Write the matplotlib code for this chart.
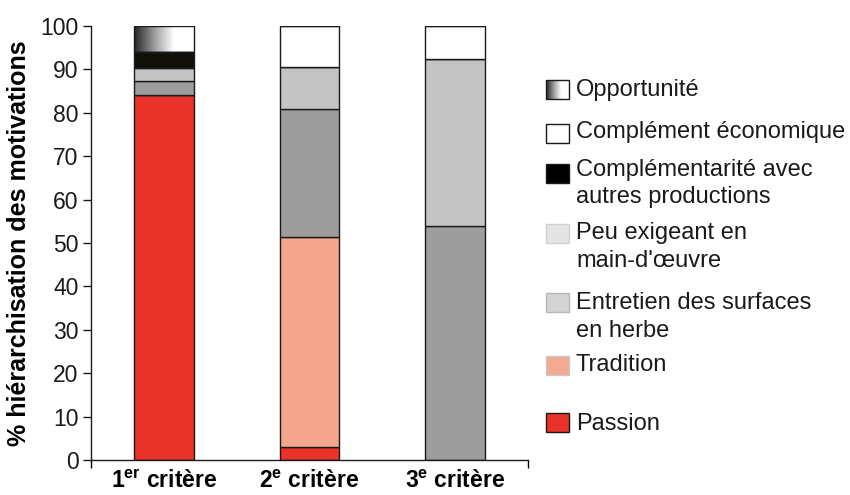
import matplotlib
matplotlib.use("Agg")
import matplotlib.pyplot as plt
import numpy as np
from matplotlib.patches import Rectangle
from matplotlib.colors import LinearSegmentedColormap

plt.rcParams['font.family'] = ['Liberation Sans', 'DejaVu Sans']
plt.rcParams['mathtext.fontset'] = 'custom'
plt.rcParams['mathtext.rm'] = 'Liberation Sans'
plt.rcParams['mathtext.bf'] = 'Liberation Sans:bold'

categories = [r'1$^{\mathbf{er}}$ critère', r'2$^{\mathbf{e}}$ critère', r'3$^{\mathbf{e}}$ critère']
series_names = ['Passion', 'Tradition', 'Entretien des surfaces en herbe',
                "Peu exigeant en main-d'œuvre", 'Complémentarité avec autres productions',
                'Complément économique', 'Opportunité']
passion = [84.0, 3.0, 0.0]
tradition = [0.0, 48.3, 0.0]
entretien = [3.3, 29.5, 54.0]
peu_exigeant = [3.1, 9.8, 38.5]
complementarite = [3.7, 0.0, 0.0]
complement_eco = [0.0, 9.4, 7.5]
opportunite = [5.9, 0.0, 0.0]
yticks = [0, 10, 20, 30, 40, 50, 60, 70, 80, 90, 100]

series = [passion, tradition, entretien, peu_exigeant, complementarite, complement_eco, opportunite]
bar_colors = ['#e8322a', '#f4a68c', '#9d9d9d', '#c4c4c4', '#100f0a', '#ffffff', 'none']

W, H = 850, 495
fig = plt.figure(figsize=(W / 100, H / 100), dpi=100)
ax = fig.add_axes([91 / W, 1 - 460 / H, (528 - 91) / W, (460 - 26) / H])

x = np.arange(len(categories))
width = 0.41
bottom = np.zeros(len(categories))
grad_cmap = LinearSegmentedColormap.from_list('g', ['#222222', '#9a9a9a', '#ffffff', '#ffffff'])
gradient = np.linspace(0, 1, 256).reshape(1, -1)
for vals, col in zip(series, bar_colors):
    vals = np.array(vals)
    bars = ax.bar(x, vals, width, bottom=bottom, color=col, edgecolor='#1a1a1a', linewidth=1.0, zorder=2)
    if col == 'none':
        for b, v in zip(bars, vals):
            if v > 0:
                im = ax.imshow(gradient, cmap=grad_cmap, aspect='auto', zorder=1.5,
                               extent=[b.get_x(), b.get_x() + b.get_width(), b.get_y(), b.get_y() + b.get_height()])
                im.set_clip_path(b)
    bottom += vals

ax.set_xlim(-0.5, 2.5)
ax.set_ylim(0, 100)
ax.set_yticks(yticks)
ax.set_xticks(x)
ax.set_xticklabels(categories, fontsize=16.5, fontweight='bold')
ax.tick_params(axis='x', length=0, pad=7)
ax.tick_params(axis='y', length=6, width=1, labelsize=16.5, pad=3, colors='#1a1a1a')
ax.set_xticks([-0.5, 2.5], minor=True)
ax.tick_params(axis='x', which='minor', length=6, width=1, direction='out')
for s in ['top', 'right']:
    ax.spines[s].set_visible(False)
for s in ['left', 'bottom']:
    ax.spines[s].set_color('#1a1a1a')
    ax.spines[s].set_linewidth(1.0)
ax.set_ylabel('% hiérarchisation des motivations', fontsize=18, fontweight='bold', labelpad=7)
ax.set_aspect('auto')

# legend (drawn manually to match layout)
legend_items = [
    ('Opportunité', None, ['Opportunité'], 80, [90]),
    ('Complément économique', '#ffffff', ['Complément économique'], 124, [132]),
    ('Complémentarité', '#000000', ['Complémentarité avec', 'autres productions'], 164, [170, 197]),
    ('Peu exigeant', '#e4e4e4', ["Peu exigeant en", "main-d'œuvre"], 224, [233, 261]),
    ('Entretien', '#d4d4d4', ['Entretien des surfaces', 'en herbe'], 293, [303, 331]),
    ('Tradition', '#f4aa92', ['Tradition'], 356, [365]),
    ('Passion', '#e8322a', ['Passion'], 413, [424]),
]
edge_cols = {'Opportunité': '#1a1a1a', 'Complément économique': '#1a1a1a', 'Complémentarité': '#1a1a1a',
             'Peu exigeant': '#d0d0d0', 'Entretien': '#b8b8b8', 'Tradition': '#c8c8c8', 'Passion': '#1a1a1a'}
sw, sh = 23, 19
for key, col, lines, top, ys in legend_items:
    rx, ry = 546 / W, 1 - (top + sh) / H
    rect = Rectangle((rx, ry), sw / W, sh / H, transform=fig.transFigure,
                     facecolor=col if col else 'none', edgecolor=edge_cols[key], linewidth=1.0, zorder=3)
    fig.patches.append(rect)
    if col is None:
        lax = fig.add_axes([rx, ry, sw / W, sh / H])
        lax.imshow(gradient, cmap=grad_cmap, aspect='auto', extent=[0, 1, 0, 1])
        lax.set_axis_off()
    for line, yy in zip(lines, ys):
        fig.text(576 / W, 1 - yy / H, line, fontsize=17, va='center', ha='left', color='#1a1a1a')

fig.savefig('out.png', dpi=100)
